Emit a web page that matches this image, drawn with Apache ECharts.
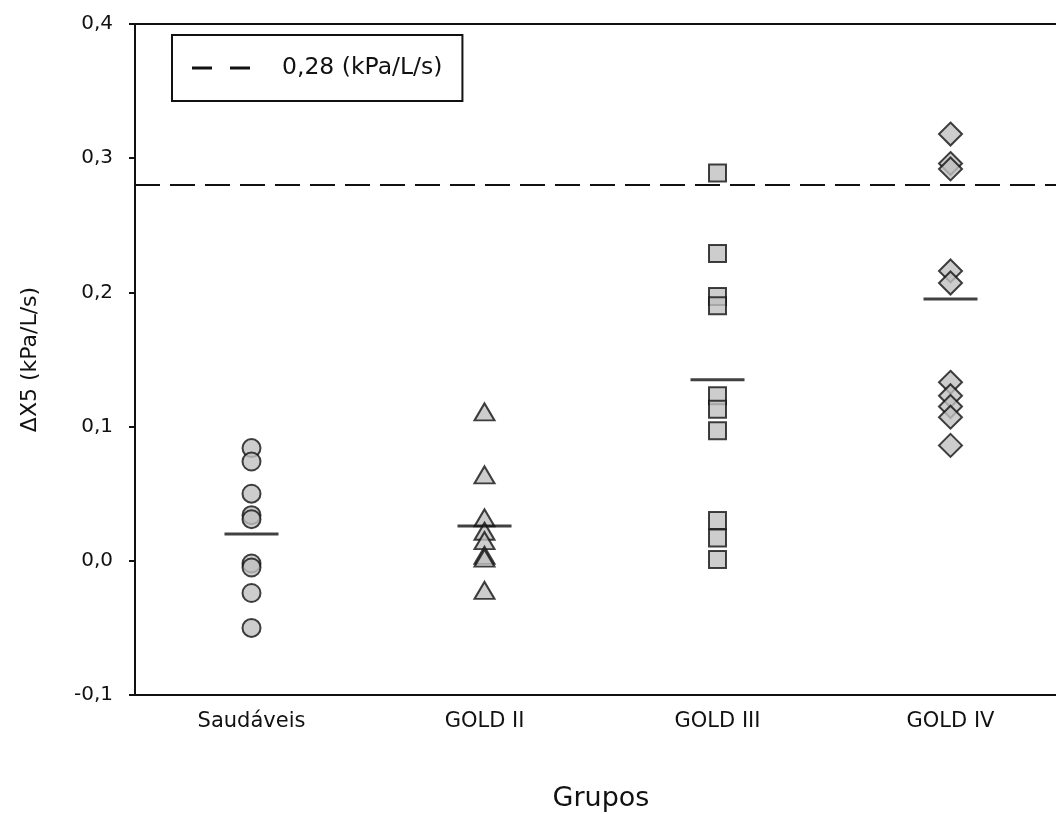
<!DOCTYPE html>
<html>
<head>
<meta charset="utf-8">
<script src="https://cdn.jsdelivr.net/npm/echarts@6/dist/echarts.min.js"></script>
<style>
html,body{margin:0;padding:0;background:#fff;}
#chart{width:1056px;height:814px;}
</style>
</head>
<body>
<div id="chart"></div>
<script>
const categories = ['Saudáveis', 'GOLD II', 'GOLD III', 'GOLD IV'];
const saudaveis = [0.084, 0.074, 0.050, 0.034, 0.031, -0.002, -0.005, -0.024, -0.050];
const goldII = [0.111, 0.064, 0.032, 0.022, 0.015, 0.004, 0.002, -0.022];
const goldIII = [0.289, 0.229, 0.197, 0.190, 0.123, 0.113, 0.097, 0.030, 0.017, 0.001];
const goldIV = [0.318, 0.296, 0.292, 0.216, 0.207, 0.133, 0.123, 0.115, 0.107, 0.086];
const means = [0.020, 0.026, 0.135, 0.195];
const cutoff = 0.28;
const cutoffLabel = '0,28 (kPa/L/s)';
const yTicks = { min: -0.1, max: 0.4, interval: 0.1 };

const FONT = '"DejaVu Sans", "Liberation Sans", sans-serif';
const markStyle = { color: '#c0c0c0', borderColor: '#111', borderWidth: 2 };

function pts(catIdx, arr) { return arr.map(v => [categories[catIdx], v]); }

const chart = echarts.init(document.getElementById('chart'), null, { renderer: 'canvas' });
chart.setOption({
  animation: false,
  backgroundColor: '#fff',
  grid: { left: 135, right: -11, top: 24, bottom: 119, show: true, borderColor: '#111', borderWidth: 2,
          containLabel: false, outerBoundsMode: 'none' },
  legend: {
    data: [{ name: cutoffLabel, icon: 'path://M0,0H20V3H0ZM38,0H58V3H38Z', itemStyle: { color: '#111' } }],
    left: 172, top: 35,
    padding: [21, 20, 21, 20],
    borderColor: '#111', borderWidth: 2,
    itemWidth: 58, itemHeight: 3,
    textStyle: { fontFamily: FONT, fontSize: 23.5, color: '#111', padding: [0, 0, 0, 27] }
  },
  xAxis: [{
    type: 'category',
    data: categories,
    boundaryGap: true,
    axisLine: { onZero: false, lineStyle: { color: '#111', width: 2 } },
    axisTick: { show: false },
    axisLabel: { fontFamily: FONT, fontSize: 21, color: '#111', margin: 16 },
    name: 'Grupos', nameLocation: 'middle', nameGap: 90,
    nameTextStyle: { fontFamily: FONT, fontSize: 27, color: '#111' },
    splitLine: { show: false }
  }, {
    type: 'value', min: 0, max: 1, show: false
  }],
  yAxis: {
    type: 'value',
    min: yTicks.min, max: yTicks.max, interval: yTicks.interval,
    axisLine: { show: true, lineStyle: { color: '#111', width: 2 } },
    axisTick: { show: true, length: 6, lineStyle: { color: '#111', width: 2 } },
    axisLabel: { fontFamily: FONT, fontSize: 20, color: '#111', margin: 22,
      formatter: v => v.toFixed(1).replace('.', ',') },
    splitLine: { show: false },
    name: 'ΔX5 (kPa/L/s)', nameLocation: 'middle', nameGap: 94,
    nameTextStyle: { fontFamily: FONT, fontSize: 22, color: '#111' }
  },
  series: [
    { name: cutoffLabel, type: 'line', xAxisIndex: 1, symbol: 'none',
      data: [[0, cutoff], [1, cutoff]],
      itemStyle: { color: '#111' },
      lineStyle: { color: '#111', width: 2, type: [25, 10] }, z: 1 },
    { type: 'scatter', data: pts(0, saudaveis), symbol: 'circle', symbolSize: 18, itemStyle: markStyle, z: 3 },
    { type: 'scatter', data: pts(1, goldII), symbol: 'triangle', symbolSize: [20, 17], itemStyle: markStyle, z: 3 },
    { type: 'scatter', data: pts(2, goldIII), symbol: 'rect', symbolSize: 17, itemStyle: markStyle, z: 3 },
    { type: 'scatter', data: pts(3, goldIV), symbol: 'diamond', symbolSize: [23, 23], itemStyle: markStyle, z: 3 },
    { type: 'scatter', data: means.map((m, i) => [categories[i], m]), symbol: 'rect', symbolSize: [54, 3],
      itemStyle: { color: '#111' }, z: 4 }
  ]
});
</script>
</body>
</html>
